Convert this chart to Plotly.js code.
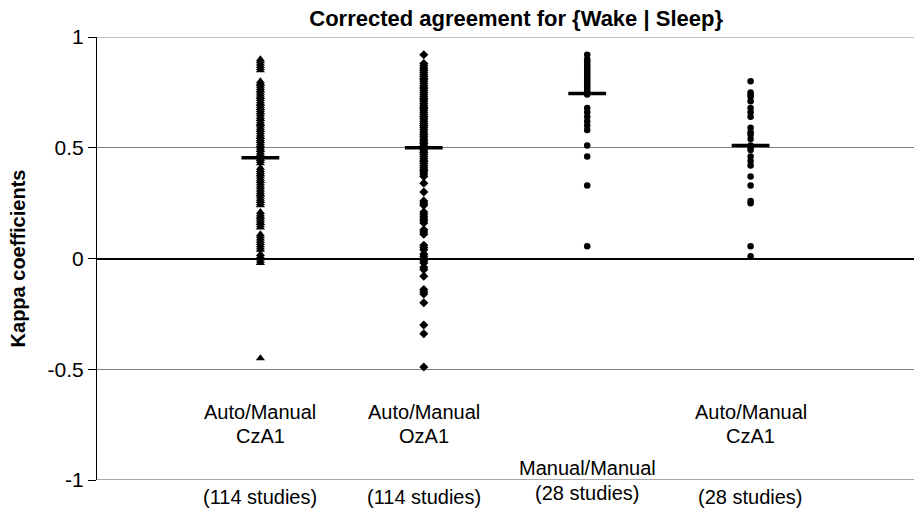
<!DOCTYPE html>
<html>
<head>
<meta charset="utf-8">
<script src="https://cdn.plot.ly/plotly-3.0.1.min.js"></script>
<style>html,body{margin:0;padding:0;background:#fff;}#chart{width:920px;height:513px;}</style>
</head>
<body>
<div id="chart"></div>
<script>
// Category positions and labels
const categoryPos = [1, 2, 3, 4];
const labelLine1 = ["Auto/Manual", "Auto/Manual", "", "Auto/Manual"];
const labelLine2 = ["CzA1", "OzA1", "Manual/Manual", "CzA1"];
const labelLine3 = ["(114 studies)", "(114 studies)", "(28 studies)", "(28 studies)"];

// Kappa values per group
const autoCzA1_114 = [0.90,0.89,0.88,0.87,0.86,0.85,
  0.80,0.79,0.78,0.77,0.76,0.75,0.74,0.73,0.72,0.71,0.70,0.69,0.68,0.67,0.66,0.65,0.64,0.63,0.62,0.61,0.60,0.59,0.58,0.57,0.56,0.55,0.54,0.53,0.52,0.51,0.50,0.49,0.48,0.47,0.46,0.45,0.44,0.43,
  0.79,0.76,0.73,0.70,0.68,0.66,0.63,0.61,0.58,0.55,0.53,0.51,0.49,0.47,0.45,
  0.41,0.40,0.39,0.38,0.37,0.36,0.35,0.34,0.33,0.32,0.38,0.35,
  0.31,0.30,0.29,0.28,0.27,0.26,0.25,0.24,0.29,0.26,
  0.21,0.20,0.19,0.18,0.17,0.16,0.15,0.14,0.19,0.16,
  0.11,0.10,0.09,0.08,0.07,0.06,0.05,0.04,0.02,0.01,0.00,-0.01,-0.02,-0.45];
const autoOzA1_114 = [0.92,
  0.88,0.87,0.86,0.85,0.84,0.83,0.82,0.81,0.80,0.79,0.78,0.77,0.76,0.75,0.74,0.73,0.72,0.71,0.70,0.69,0.68,0.67,0.66,0.65,0.64,0.63,0.62,0.61,0.60,0.59,0.58,0.57,0.56,0.55,0.54,0.53,0.52,0.51,0.50,0.49,0.48,0.47,0.46,0.45,0.44,0.43,0.42,0.41,0.40,0.39,0.38,0.37,
  0.85,0.81,0.77,0.72,0.68,0.64,0.60,0.56,0.52,0.48,0.44,0.40,
  0.34,0.30,0.26,0.25,0.24,0.21,0.20,0.19,0.18,0.17,0.16,0.13,0.12,0.11,
  0.06,0.05,0.04,0.02,0.01,0.00,-0.01,-0.02,-0.04,-0.05,-0.08,-0.14,-0.15,-0.16,-0.20,-0.30,-0.34,-0.49];
const manualManual_28 = [0.92,0.90,0.89,0.88,0.87,0.86,0.85,0.84,0.83,0.82,0.81,0.80,0.79,0.78,0.77,0.76,0.75,0.74,
  0.68,0.66,0.64,0.62,0.60,0.58,0.51,0.46,0.33,0.055];
const autoCzA1_28 = [0.80,0.75,0.74,0.73,0.71,0.68,0.66,0.64,0.59,0.57,0.56,0.54,0.51,0.50,0.49,
  0.46,0.44,0.42,0.37,0.33,0.26,0.25,0.055,0.01];
const groupMeans = [0.455, 0.50, 0.745, 0.51];

const groups = [autoCzA1_114, autoOzA1_114, manualManual_28, autoCzA1_28];
const symbols = ["triangle-up", "diamond", "circle", "circle"];
const sizes = [8, 7, 6.5, 6.5];

const traces = groups.map((vals, i) => ({
  type: "scatter", mode: "markers",
  x: vals.map(() => categoryPos[i]), y: vals,
  marker: {symbol: symbols[i], size: sizes[i], color: "#000"},
  hoverinfo: "y", showlegend: false, cliponaxis: false
}));
traces.push({
  type: "scatter", mode: "markers",
  x: categoryPos, y: groupMeans,
  marker: {symbol: "line-ew", size: 27, line: {width: 3.5, color: "#000"}, color: "#000"},
  showlegend: false, hoverinfo: "y"
});

// y positions of label lines in paper coordinates (0 = bottom of plot, 1 = top)
const yLine1 = 0.154, yLine2 = 0.0995, yLine3 = -0.0385, yMid3 = 0.027, yMid3b = -0.0295;
const annotations = [];
const fnt = {family: "Liberation Sans, Arial, sans-serif", size: 20, color: "#000"};
categoryPos.forEach((p, i) => {
  const add = (txt, yy) => annotations.push({x: p, y: yy, xref: "x", yref: "paper", text: txt, showarrow: false, font: fnt, yanchor: "middle"});
  if (i === 2) {
    add(labelLine2[i], yMid3);
    add(labelLine3[i], yMid3b);
  } else {
    add(labelLine1[i], yLine1);
    add(labelLine2[i], yLine2);
    add(labelLine3[i], yLine3);
  }
});

const layout = {
  width: 920, height: 513,
  margin: {l: 97, r: 6, t: 37, b: 33},
  paper_bgcolor: "#fff", plot_bgcolor: "#fff",
  font: {family: "Liberation Sans, Arial, sans-serif", color: "#000"},
  title: {text: "<b>Corrected agreement for {Wake | Sleep}</b>", x: 0.561, xanchor: "center", y: 0.965, yanchor: "middle",
          font: {family: "Liberation Sans, Arial, sans-serif", size: 22, color: "#000"}},
  xaxis: {range: [0, 5], showgrid: false, zeroline: false, showticklabels: false, ticks: "", showline: false, fixedrange: true},
  yaxis: {range: [-1, 1], tickvals: [-1, -0.5, 0, 0.5, 1], ticktext: ["-1", "-0.5", "0", "0.5", "1"],
          ticks: "outside", ticklen: 8, tickcolor: "#000", tickwidth: 1,
          showline: true, linecolor: "#000", linewidth: 1,
          showgrid: true, gridcolor: "#808080", gridwidth: 1,
          zeroline: true, zerolinecolor: "#000", zerolinewidth: 2,
          tickfont: {size: 21, family: "Liberation Sans, Arial, sans-serif", color: "#000"},
          title: {text: "<b>Kappa coefficients</b>", standoff: 16, font: {size: 20, family: "Liberation Sans, Arial, sans-serif", color: "#000"}}},
  shapes: [
    {type: "line", xref: "paper", yref: "y", x0: 0, x1: 1, y0: 1, y1: 1, line: {color: "#808080", width: 1}},
    {type: "line", xref: "paper", yref: "y", x0: 0, x1: 1, y0: -1, y1: -1, line: {color: "#555", width: 1}}
  ],
  annotations: annotations
};

Plotly.newPlot("chart", traces, layout, {displayModeBar: false, staticPlot: true});
</script>
</body>
</html>
